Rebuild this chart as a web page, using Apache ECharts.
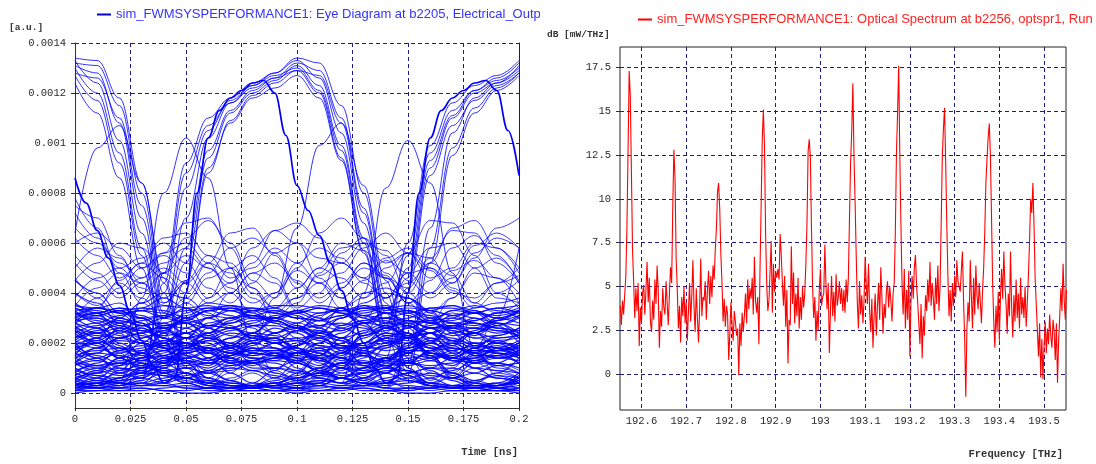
<!DOCTYPE html>
<html>
<head>
<meta charset="utf-8">
<script src="https://cdn.jsdelivr.net/npm/echarts@6/dist/echarts.min.js"></script>
<style>
html,body{margin:0;padding:0;background:#fff;}
#eye{position:absolute;left:0;top:0;width:540px;height:464px;overflow:hidden;}
#spec{position:absolute;left:540px;top:0;width:556px;height:464px;overflow:hidden;}
</style>
</head>
<body>
<div id="eye"></div>
<div id="spec"></div>
<script>
// ---------------- Eye diagram data (values in 1e-5 a.u.) ----------------
const eyeName = 'sim_FWMSYSPERFORMANCE1: Eye Diagram at b2205, Electrical_Output, Run 1';
const eyeTime = [0,0.01,0.02,0.03,0.04,0.05,0.06,0.07,0.08,0.09,0.1,0.11,0.12,0.13,0.14,0.15,0.16,0.17,0.18,0.19,0.2];
const thickTime = [0,0.005,0.01,0.015,0.02,0.025,0.03,0.035,0.04,0.045,0.05,0.055,0.06,0.065,0.07,0.075,0.08,0.085,0.09,0.095,0.1,
                   0.105,0.11,0.115,0.12,0.125,0.13,0.135,0.14,0.145,0.15,0.155,0.16,0.165,0.17,0.175,0.18,0.185,0.19,0.195,0.2];
const eyeLevelTicks = [0,0.0002,0.0004,0.0006,0.0008,0.001,0.0012,0.0014];
const eyeScale = 1e-5;
const eyeThick = [86,76,65,54,43,32,21,11,4,6,40,80,102,113,118,121,124,125,120,103,83,
                  73,63,52,41,30,20,10,4,6,40,80,102,113,118,121,124,125,121,105,87];
const eyeEdges = [
 [133,124,101,64,30,52,94,112,120,125,131,123,99,62,28,50,93,111,121,126,132],
 [130,120,96,58,24,6,4,10,14,9,5,8,12,7,3,12,58,98,114,122,128],
 [8,5,3,6,48,92,110,118,124,128,133,126,104,68,32,8,4,6,10,12,9],
 [12,8,4,10,40,82,105,117,123,127,130,121,97,60,27,55,96,113,121,125,130],
 [127,117,92,55,22,45,90,108,118,122,127,118,93,56,22,5,3,7,12,9,6],
 [134,133,118,84,44,12,4,8,16,20,14,8,10,18,22,16,8,6,12,20,18],
 [18,22,16,9,5,8,14,18,12,6,9,16,12,5,14,60,99,116,123,127,133],
 [64,98,107,84,46,15,6,12,20,38,66,99,108,83,45,14,5,10,18,30,58],
 [10,6,4,38,80,102,86,50,20,8,5,6,4,40,82,101,84,48,18,7,4],
 [128,126,110,75,36,44,88,109,119,124,129,127,108,72,33,46,90,110,120,124,129],
 [124,112,86,50,18,4,2,6,9,6,3,4,8,5,2,8,52,95,112,121,127],
 [6,3,2,8,30,70,102,116,123,128,134,132,115,80,40,10,3,2,5,8,6],
 [132,131,115,80,40,10,3,5,8,4,2,6,10,6,2,18,66,104,118,124,131],
 [4,2,3,5,44,88,107,116,122,126,129,120,94,57,24,42,87,107,117,123,128],
 [131,128,108,70,32,58,97,113,121,126,132,129,110,74,36,10,4,8,14,11,8]
];
const eyeMid = [
 [75,70,55,40,48,62,69,60,45,38,50,64,70,62,48,40,52,66,69,58,50],
 [45,52,60,58,48,40,52,64,66,55,42,50,60,57,46,42,54,65,64,52,44],
 [60,64,58,50,56,68,70,58,42,30,36,48,58,60,52,56,69,68,55,40,34],
 [55,48,40,46,56,60,52,40,32,40,52,58,54,44,38,48,58,60,50,38,36],
 [40,35,42,50,55,48,38,44,58,65,60,46,38,45,53,48,40,46,59,64,58],
 [78,66,48,36,30,38,48,58,62,56,44,36,42,50,46,36,45,58,63,55,44],
 [50,58,54,44,35,30,38,50,55,46,34,40,56,62,55,40,32,38,50,54,45],
 [35,42,48,44,38,45,55,52,40,34,42,50,46,38,44,56,54,42,36,44,50],
 [62,55,46,52,62,64,55,46,50,58,52,44,48,58,64,56,46,50,60,58,48],
 [28,34,45,52,46,36,30,40,48,44,33,30,42,52,47,36,28,38,48,46,36],
 [46,38,30,36,48,55,50,42,36,40,49,44,34,38,50,56,49,40,38,44,47],
 [66,60,52,46,52,58,50,44,52,65,68,62,52,46,54,58,50,44,54,66,70],
 [38,46,50,42,36,44,52,48,38,32,38,47,52,46,38,44,52,47,36,32,36],
 [52,45,38,44,50,44,36,40,48,52,45,38,44,52,46,36,40,49,53,46,40],
 [30,38,44,38,30,36,46,50,42,34,38,44,38,30,38,48,50,41,34,40,45],
 [72,62,50,54,60,52,42,36,44,56,60,54,52,60,57,45,38,44,56,62,58]
];
const eyeCross = [
 [36,32,24,15,8,4,2,2,3,6,12,20,27,31,33,34,33,31,28,26,25],
 [2,4,9,16,24,30,33,34,33,32,30,26,19,11,5,2,1,2,4,8,14],
 [30,34,36,30,18,8,3,2,4,9,16,24,30,35,34,26,15,7,3,2,4],
 [5,3,6,14,24,32,36,35,30,24,18,12,8,10,18,27,33,35,33,28,22],
 [40,36,28,20,14,10,8,9,12,14,13,10,6,4,8,16,24,30,34,36,38],
 [20,14,8,6,12,22,30,34,32,28,22,16,10,6,10,20,28,33,32,27,20],
 [12,18,26,34,38,34,26,18,12,8,6,8,14,24,34,38,33,24,16,10,8],
 [28,24,18,14,16,22,28,30,26,18,10,6,4,6,12,20,26,28,24,18,14],
 [45,40,32,26,22,20,18,16,15,17,20,26,34,40,42,38,30,24,20,18,17],
 [15,22,30,36,40,38,32,26,22,20,21,24,30,36,40,38,32,26,22,20,19],
 [3,2,2,4,10,18,26,30,31,30,28,26,22,16,10,6,3,2,2,3,6],
 [26,20,14,10,9,10,12,13,12,10,8,7,9,14,20,26,30,32,30,26,22]
];
const eyeLow = [
 [32,30,26,22,25,30,33,31,27,24,28,32,34,30,26,23,27,31,33,30,28],
 [28,31,33,30,26,22,24,29,33,34,31,27,25,28,32,33,29,25,23,27,31],
 [20,24,28,30,26,20,16,18,22,26,24,19,16,20,26,29,26,21,18,20,24],
 [14,18,22,20,15,12,14,19,23,22,17,13,15,20,24,22,16,13,14,18,21],
 [8,12,17,22,25,22,16,12,13,16,13,9,12,18,23,24,19,14,13,15,12],
 [3,5,8,12,10,6,3,2,2,3,4,3,6,10,11,7,3,2,2,3,4],
 [2,2,4,7,9,8,5,3,2,1,2,2,3,6,9,9,6,3,2,1,2],
 [5,9,14,16,12,8,4,2,3,2,4,7,12,15,13,9,4,2,2,3,5],
 [25,20,14,10,12,18,22,20,16,15,19,24,21,15,11,12,17,21,20,17,15],
 [33,28,20,16,20,26,30,27,22,20,25,31,34,28,20,16,20,27,30,28,24],
 [12,16,22,26,22,15,13,17,20,18,14,11,16,23,27,23,16,14,17,19,16],
 [18,14,10,8,11,16,18,16,14,14,15,18,14,9,8,12,17,18,16,14,16],
 [30,26,19,12,8,6,4,3,3,4,6,10,16,22,26,28,24,16,10,6,4],
 [4,8,14,20,26,28,24,18,14,13,16,20,24,28,27,22,16,13,14,17,20],
 [22,26,30,28,20,12,6,3,2,3,8,15,22,28,29,24,14,6,3,3,7],
 [10,7,5,6,10,14,16,14,12,13,12,9,6,5,8,13,16,15,13,12,10],
 [26,24,22,24,27,26,22,20,24,30,33,30,26,23,25,27,24,21,24,29,33],
 [35,33,30,27,30,34,35,33,30,30,33,35,34,31,28,30,34,35,32,30,33],
 [16,20,24,27,28,24,17,12,13,15,14,15,20,25,28,27,21,14,12,14,15],
 [1,2,3,4,3,2,1,1,2,3,2,1,2,3,4,3,2,1,1,2,1],
 [6,4,3,5,8,10,8,5,3,2,3,5,4,3,5,8,10,8,5,3,2],
 [24,19,14,11,13,15,13,15,19,24,27,23,17,12,11,14,15,14,18,23,26],
 [11,13,16,18,21,24,22,17,15,16,18,16,13,15,19,23,24,19,15,15,17],
 [29,32,34,31,27,29,33,35,33,29,26,29,33,35,32,28,29,33,35,33,30],
 [9,11,13,12,9,6,4,3,3,5,7,10,12,13,11,7,4,3,3,4,8],
 [19,15,12,14,19,22,20,14,10,10,13,17,14,11,13,18,22,21,15,11,12],
 [3,6,11,17,21,20,14,8,4,3,2,4,10,17,22,21,15,8,4,2,3],
 [27,22,17,15,17,20,18,13,11,14,19,25,22,17,15,17,20,17,12,12,17],
 [14,11,9,11,15,19,24,26,24,20,16,13,10,10,14,19,24,26,24,20,15],
 [32,29,25,21,19,20,24,28,30,29,26,22,19,19,22,26,29,30,28,25,23],
 [7,5,4,4,6,8,6,4,3,4,6,8,6,4,4,6,8,6,4,3,5],
 [21,25,27,24,18,13,12,15,18,18,15,13,17,23,26,24,18,13,12,15,19],
 [2,4,6,9,13,17,16,12,9,10,9,6,4,8,13,17,17,13,10,9,8],
 [17,21,25,29,31,28,23,19,17,17,19,22,26,29,30,27,22,18,17,17,20],
 [34,31,27,25,26,29,33,34,31,28,26,27,30,33,34,32,28,26,26,29,33],
 [12,9,7,8,12,18,21,19,16,15,16,14,10,8,10,16,21,20,16,14,13],
 [5,3,2,3,5,7,9,10,9,7,5,3,2,3,6,8,10,10,8,6,5],
 [23,21,18,17,20,24,27,26,23,21,22,23,21,18,18,22,26,27,24,22,23],
 [15,17,18,16,13,11,12,15,17,17,16,17,18,16,12,11,13,16,17,16,15],
 [31,34,33,28,22,18,17,19,24,29,32,34,32,27,21,17,17,20,25,30,32]
];
const eyeFloor = [
 [33,34,32,30,31,33,34,33,31,30,32,34,33,31,30,32,34,34,32,31,33],
 [30,32,34,33,30,28,30,33,34,33,30,29,31,34,34,31,28,29,32,34,32],
 [26,28,31,33,32,29,27,28,31,33,32,29,27,29,32,33,31,28,27,29,31],
 [3,2,1,1,2,3,2,1,1,1,2,3,2,1,1,2,3,2,1,1,2],
 [1,1,2,2,1,1,2,3,3,2,1,1,2,2,1,1,2,3,3,2,1],
 [4,3,5,6,4,2,2,2,3,3,4,5,6,4,2,2,2,3,3,3,4],
 [9,7,6,8,11,12,10,14,18,16,12,9,7,8,11,12,10,14,18,16,12],
 [13,10,8,10,14,16,13,15,20,22,18,14,10,9,13,16,14,15,20,21,17],
 [19,22,25,23,19,16,18,22,27,29,26,21,18,20,24,23,18,19,24,28,27],
 [0,1,1,2,1,0,0,1,1,1,0,1,1,2,1,0,0,1,1,1,0],
 [7,10,12,11,8,5,3,2,2,3,5,9,12,11,8,5,3,2,2,3,6],
 [24,27,29,27,24,22,23,26,29,30,27,24,22,24,27,29,28,25,22,23,26],
 [16,13,11,13,17,20,18,16,17,20,21,18,14,12,14,18,20,18,16,17,19],
 [2,3,5,8,7,4,2,1,2,4,6,8,6,3,2,1,2,3,5,7,6],
 [35,34,32,33,35,34,31,30,33,35,35,34,32,32,34,35,33,31,32,34,35],
 [11,14,17,19,17,14,12,11,12,14,16,18,19,17,14,12,11,12,15,17,18],
 [21,18,15,13,15,18,21,24,23,20,17,15,14,16,19,22,24,22,19,17,18],
 [28,26,23,20,18,19,22,25,27,27,25,22,19,18,20,23,26,27,26,24,25],
 [6,8,10,9,7,6,8,11,13,12,9,7,6,8,10,9,7,6,8,11,12],
 [32,31,33,34,33,30,27,26,28,31,33,32,33,34,32,29,26,26,29,32,33],
 [18,20,21,20,18,17,19,22,24,23,21,19,18,20,21,20,18,17,19,22,23],
 [3,4,4,3,3,4,5,4,3,3,4,4,3,3,4,5,4,3,3,4,4],
 [14,16,15,13,12,14,17,19,18,15,13,14,16,15,13,12,14,17,19,18,15],
 [25,23,22,24,27,28,26,23,21,22,25,27,28,26,23,22,24,27,28,26,24],
 [8,6,4,3,4,6,9,13,16,15,12,9,6,4,3,4,6,9,13,16,14],
 [29,30,28,25,23,24,27,30,31,29,26,24,25,28,30,29,26,23,24,27,30],
 [1,3,6,10,14,13,9,5,2,1,1,3,6,10,14,13,9,5,2,1,1],
 [22,24,26,25,22,19,17,18,21,24,26,25,22,19,17,18,21,24,26,25,23],
 [12,11,12,14,15,13,11,16,21,22,18,13,11,12,14,15,13,11,16,21,22],
 [34,32,29,27,28,31,34,35,34,32,30,29,31,34,35,33,30,28,29,32,34]
];

// ---------------- Optical spectrum data ----------------
const specName = 'sim_FWMSYSPERFORMANCE1: Optical Spectrum at b2256, optspr1, Run 1';
const freqStart = 192.5525;   // THz, first sample
const freqStep = 0.0025;      // THz, sample spacing
const freqTicks = [192.6,192.7,192.8,192.9,193,193.1,193.2,193.3,193.4,193.5];
const dbTicks = [0,2.5,5,7.5,10,12.5,15,17.5];
const spectrumDb = [
 3.9,2.8,4.2,3.4,4.5,5.6,8.4,12.7,17.3,15.9,11.6,7.1,5.3,3.2,4.9,3.6,5.2,1.6,3.8,2.9,4.6,5.1,3.4,4.8,6.4,4.1,5.5,3.0,2.4,4.2,3.1,5.4,4.0,6.2,4.7,1.5,3.6,2.7,4.9,3.8,
 3.4,5.3,4.0,2.8,4.6,6.1,5.2,9.6,12.8,11.2,6.6,4.9,2.6,3.9,1.8,4.4,3.3,5.0,2.9,4.1,1.9,3.6,5.2,3.0,4.5,6.5,3.8,2.4,4.9,3.2,1.8,3.7,6.6,3.3,4.4,4.2,5.3,3.1,4.8,5.9,
 4.0,5.6,4.4,6.2,5.4,7.1,8.3,10.4,10.9,9.4,6.8,5.2,3.0,4.3,2.7,3.9,3.4,0.8,2.3,4.1,2.8,1.9,3.6,3.0,2.2,2.6,-0.05,2.9,1.6,3.5,2.4,3.3,4.6,2.9,5.4,3.7,4.9,4.3,5.5,3.4,
 6.7,4.2,3.5,4.4,1.7,6.0,9.6,13.4,15.1,13.0,8.0,5.1,3.6,4.2,4.3,7.6,3.5,6.3,4.7,5.9,5.5,6.0,5.4,8.0,6.8,5.2,3.9,5.6,2.7,4.8,0.6,3.1,2.8,7.3,4.0,5.8,2.9,4.6,3.3,5.5,
 2.6,4.4,3.1,5.0,3.8,4.6,6.3,8.6,12.7,13.4,12.4,8.4,5.0,3.2,4.4,1.9,3.6,2.5,4.8,6.0,3.9,4.4,4.6,7.4,5.0,3.7,5.2,1.2,3.6,5.6,3.3,4.7,3.0,5.7,3.9,4.4,5.3,4.0,4.9,3.6,
 4.8,3.5,5.4,4.1,5.5,8.9,12.1,13.8,16.6,12.5,9.9,6.8,4.1,2.6,5.3,3.4,4.5,2.9,4.2,6.7,5.1,4.0,6.3,3.6,2.4,4.3,1.5,3.3,4.6,2.2,3.9,5.2,3.1,6.1,4.4,2.3,4.0,3.2,4.7,5.3,
 3.8,5.0,4.2,3.0,4.6,5.2,8.1,12.6,14.9,17.6,12.5,8.5,5.1,3.4,6.0,2.6,4.8,3.1,5.9,1.0,4.2,5.6,4.3,6.1,6.8,5.0,4.1,2.9,1.7,4.0,0.9,3.3,2.2,4.5,3.6,5.4,4.1,6.4,3.9,5.2,
 4.3,3.1,5.5,4.0,6.2,3.6,5.0,8.6,12.4,14.0,15.2,12.1,8.6,5.6,3.3,4.8,3.0,5.2,3.9,5.6,4.4,6.5,5.3,5.4,4.7,5.9,7.0,4.2,2.0,-1.3,2.6,4.1,3.0,6.5,4.4,2.6,5.5,3.4,6.2,4.5,
 3.7,5.2,4.1,2.9,4.8,6.1,8.2,11.0,12.3,13.5,14.3,12.5,9.0,5.2,3.0,1.5,3.9,2.4,4.7,1.9,4.4,6.0,4.3,7.0,5.1,4.0,2.3,4.6,3.3,7.0,3.8,2.1,4.5,3.0,5.4,3.2,4.6,2.6,5.5,3.4,
 4.4,3.2,5.0,2.7,4.1,5.6,7.6,10.0,9.2,10.9,8.5,5.5,4.0,2.5,1.0,2.9,-0.2,2.0,-0.3,1.6,3.0,1.2,2.6,1.7,3.4,2.2,1.5,3.1,2.4,0.8,2.9,-0.5,1.9,3.3,4.9,3.6,6.3,4.2,3.1,4.8
];

const monoFont = '"Liberation Mono", "DejaVu Sans Mono", monospace';
const gridLine = {show:true, lineStyle:{color:'#1b1b8a', type:[4,3], width:1}};

// ---------------- Eye diagram chart ----------------
const eyeChart = echarts.init(document.getElementById('eye'), null, {renderer:'canvas'});
const eyeSeries = [];
function addEye(times, trace, color, width, z) {
  eyeSeries.push({
    type:'line', name:eyeName, symbol:'none', showSymbol:false, silent:true,
    smooth:0.4, smoothMonotone:'x', animation:false, z:z,
    lineStyle:{color:color, width:width},
    itemStyle:{color:'#0000ff'},
    data: times.map((t,i)=>[t, trace[i]*eyeScale])
  });
}
eyeFloor.forEach(tr=>addEye(eyeTime,tr,'rgba(0,0,255,0.88)',1.25,2));
eyeLow.forEach(tr=>addEye(eyeTime,tr,'rgba(0,0,255,0.88)',1.25,2));
eyeCross.forEach(tr=>addEye(eyeTime,tr,'rgba(0,0,255,0.85)',1.1,3));
eyeMid.forEach(tr=>addEye(eyeTime,tr,'rgba(0,0,255,0.75)',1,3));
eyeEdges.forEach(tr=>addEye(eyeTime,tr,'rgba(0,0,255,0.8)',1,4));
addEye(thickTime,eyeThick,'#0000ff',1.7,5);

eyeChart.setOption({
  animation:false,
  backgroundColor:'#ffffff',
  legend:{
    data:[eyeName], left:97, top:8, padding:0, icon:'rect', itemWidth:14, itemHeight:2, itemGap:0,
    selectedMode:false,
    itemStyle:{color:'#0000cc'},
    textStyle:{color:'#3333ff', fontFamily:'"Liberation Sans", Arial, sans-serif', fontSize:13}
  },
  grid:{left:75, top:43, width:444, height:365, show:false},
  xAxis:{
    type:'value', min:0, max:0.2, interval:0.025,
    axisLine:{show:true, onZero:false, lineStyle:{color:'#333', width:1}},
    axisTick:{show:true, length:3, lineStyle:{color:'#333'}},
    axisLabel:{color:'#2a2a2a', fontFamily:monoFont, fontSize:10.5, margin:6,
      formatter:v=>String(+v.toFixed(3))},
    splitLine:gridLine
  },
  yAxis:[{
    type:'value', min:-0.00006, max:0.0014,
    axisLine:{show:true, onZero:false, lineStyle:{color:'#333', width:1}},
    axisTick:{show:true, length:4, customValues:eyeLevelTicks, lineStyle:{color:'#333'}},
    axisLabel:{color:'#2a2a2a', fontFamily:monoFont, fontSize:10.5, margin:9, customValues:eyeLevelTicks,
      formatter:v=>v===0?'0':String(+v.toFixed(4))},
    splitLine:gridLine
  },{
    type:'value', min:-0.00006, max:0.0014, position:'right',
    axisLine:{show:true, onZero:false, lineStyle:{color:'#222', width:1}},
    axisTick:{show:false}, axisLabel:{show:false}, splitLine:{show:false}
  }],
  graphic:[
    {type:'text', left:9, top:23, style:{text:'[a.u.]', font:'bold 9.5px "Liberation Mono", monospace', fill:'#333'}},
    {type:'text', right:22, top:447, style:{text:'Time [ns]', font:'bold 10.5px "Liberation Mono", monospace', fill:'#333'}}
  ],
  series:eyeSeries
});

// ---------------- Optical spectrum chart ----------------
const specChart = echarts.init(document.getElementById('spec'), null, {renderer:'canvas'});
specChart.setOption({
  animation:false,
  backgroundColor:'#ffffff',
  legend:{
    data:[specName], left:98, top:13, padding:0, icon:'rect', itemWidth:14, itemHeight:2, itemGap:0,
    selectedMode:false,
    textStyle:{color:'#ff2020', fontFamily:'"Liberation Sans", Arial, sans-serif', fontSize:13}
  },
  grid:{left:80, top:47, width:446, height:363, show:true, borderColor:'#222', borderWidth:1, backgroundColor:'transparent'},
  xAxis:{
    type:'value', min:192.552, max:193.549,
    axisLine:{show:false},
    axisTick:{show:true, length:3, customValues:freqTicks, lineStyle:{color:'#333'}},
    axisLabel:{color:'#2a2a2a', fontFamily:monoFont, fontSize:10.5, margin:6, customValues:freqTicks,
      formatter:v=>String(+v.toFixed(1))},
    splitLine:gridLine
  },
  yAxis:{
    type:'value', min:-2.05, max:18.67,
    axisLine:{show:false},
    axisTick:{show:true, length:4, customValues:dbTicks, lineStyle:{color:'#333'}},
    axisLabel:{color:'#2a2a2a', fontFamily:monoFont, fontSize:10.5, margin:9, customValues:dbTicks,
      formatter:v=>String(+v.toFixed(1))},
    splitLine:gridLine
  },
  graphic:[
    {type:'text', left:7, top:30, style:{text:'dB [mW/THz]', font:'bold 9.5px "Liberation Mono", monospace', fill:'#333'}},
    {type:'text', right:33, top:449, style:{text:'Frequency [THz]', font:'bold 10.5px "Liberation Mono", monospace', fill:'#333'}}
  ],
  series:[{
    type:'line', name:specName, symbol:'none', showSymbol:false, silent:true,
    animation:false, lineStyle:{color:'#ff0000', width:1.1}, itemStyle:{color:'#ff0000'},
    data: spectrumDb.map((v,i)=>[freqStart + i*freqStep, v])
  }]
});
</script>
</body>
</html>
